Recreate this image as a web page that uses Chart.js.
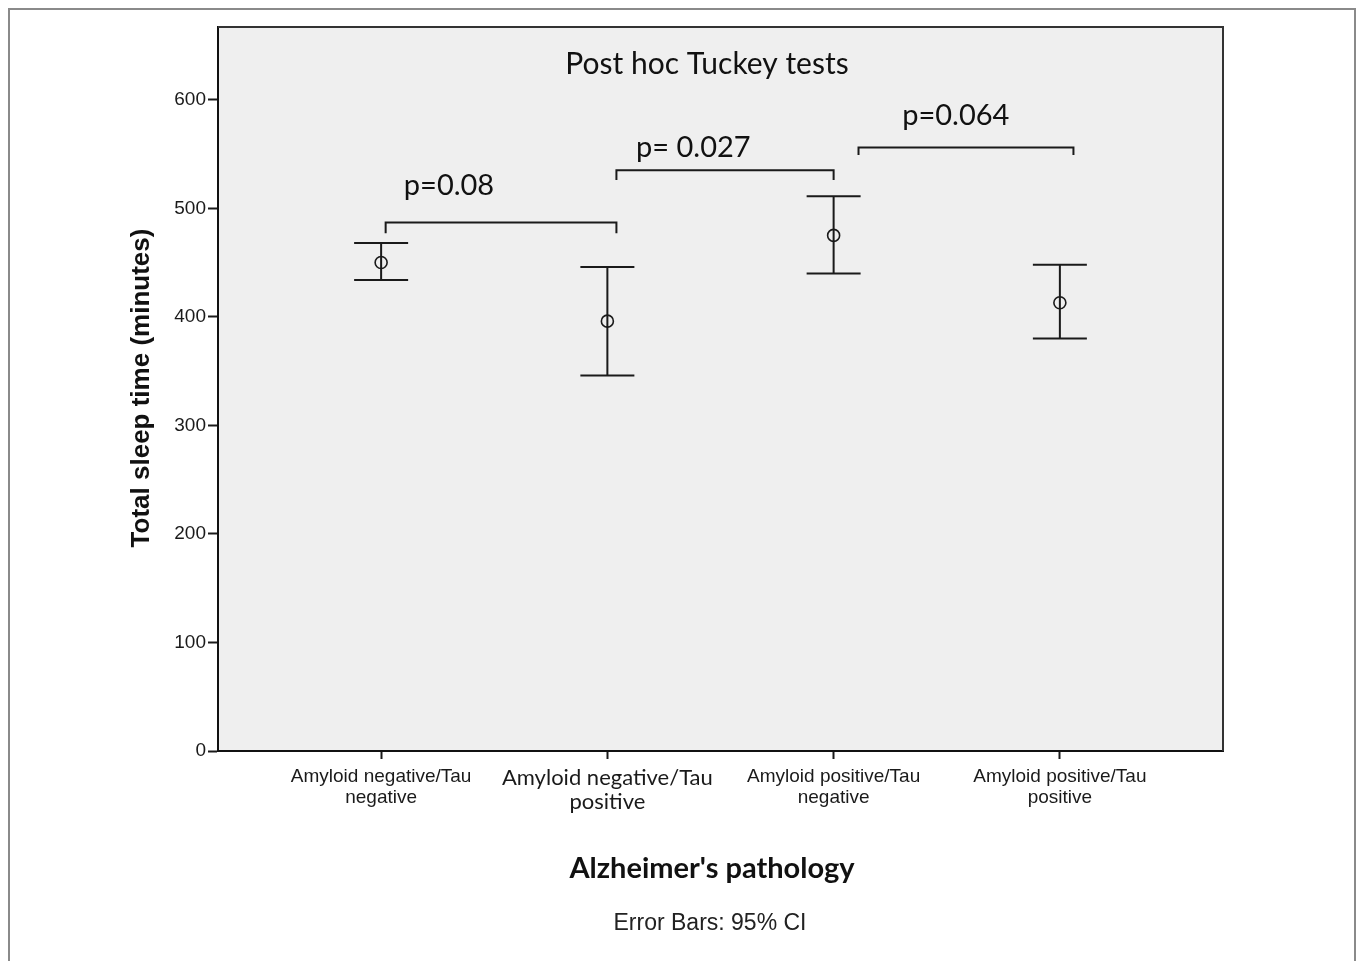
<!DOCTYPE html>
<html>
<head>
<meta charset="utf-8">
<script src="https://cdn.jsdelivr.net/npm/chart.js@4"></script>
<style>
  html, body { margin: 0; padding: 0; background: #fff; }
  #wrap { width: 1357px; height: 961px; position: relative; }
</style>
</head>
<body>
<div id="wrap"><canvas id="myChart"></canvas></div>
<script>
"use strict";
// groups (x categories) and their labels
const groupLabels = [
    ['Amyloid negative/Tau', 'negative'],
    ['Amyloid negative/Tau', 'positive'],
    ['Amyloid positive/Tau', 'negative'],
    ['Amyloid positive/Tau', 'positive']
];
// mean total sleep time and 95% CI
const means = [450, 396, 475, 413];
const ciLow = [434, 346, 440, 380];
const ciHigh = [468, 446, 511, 448];
const yTicks = [0, 100, 200, 300, 400, 500, 600];

// post hoc comparison brackets
const bracketFrom = [1.02, 2.04, 3.11];
const bracketTo = [2.04, 3.0, 4.06];
const bracketTop = [487, 535, 556];
const bracketFoot = [477, 526, 549];
const pLabels = ['p=0.08', 'p= 0.027', 'p=0.064'];
const pLabelX = [1.3, 2.38, 3.54];
const pLabelY = [521, 556, 585];

const decor = {
    id: 'decor',
    beforeDraw(chart) {
        const ctx = chart.ctx;
        const a = chart.chartArea;
        ctx.save();
        ctx.fillStyle = '#fff';
        ctx.fillRect(0, 0, chart.width, chart.height);
        ctx.strokeStyle = '#8a8a8a';
        ctx.lineWidth = 2;
        ctx.strokeRect(9, 9, 1346, 960);
        ctx.fillStyle = '#efefef';
        ctx.fillRect(a.left, a.top, a.right - a.left, a.bottom - a.top);
        ctx.restore();
    },
    afterDatasetsDraw(chart) {
        const ctx = chart.ctx;
        const xs = chart.scales.x, ys = chart.scales.y;
        ctx.save();
        ctx.strokeStyle = '#1a1a1a';
        ctx.lineWidth = 2;
        // error bars
        means.forEach((m, i) => {
            const x = xs.getPixelForValue(i + 1);
            const yl = ys.getPixelForValue(ciLow[i]);
            const yh = ys.getPixelForValue(ciHigh[i]);
            ctx.beginPath();
            ctx.moveTo(x, yl); ctx.lineTo(x, yh);
            ctx.moveTo(x - 27, yl); ctx.lineTo(x + 27, yl);
            ctx.moveTo(x - 27, yh); ctx.lineTo(x + 27, yh);
            ctx.stroke();
        });
        // brackets
        bracketFrom.forEach((b, i) => {
            const x1 = xs.getPixelForValue(b);
            const x2 = xs.getPixelForValue(bracketTo[i]);
            const yt = ys.getPixelForValue(bracketTop[i]);
            const yf = ys.getPixelForValue(bracketFoot[i]);
            ctx.beginPath();
            ctx.moveTo(x1, yf); ctx.lineTo(x1, yt); ctx.lineTo(x2, yt); ctx.lineTo(x2, yf);
            ctx.stroke();
        });
        ctx.fillStyle = '#111';
        ctx.textAlign = 'center';
        ctx.textBaseline = 'middle';
        ctx.font = '29px Lato, "Open Sans", sans-serif';
        pLabels.forEach((t, i) => {
            ctx.fillText(t, xs.getPixelForValue(pLabelX[i]), ys.getPixelForValue(pLabelY[i]));
        });
        ctx.restore();
    },
    afterDraw(chart) {
        const ctx = chart.ctx;
        const a = chart.chartArea;
        ctx.save();
        // top and right frame of the plot
        ctx.strokeStyle = '#333';
        ctx.lineWidth = 2;
        ctx.beginPath();
        ctx.moveTo(a.left, a.top); ctx.lineTo(a.right, a.top); ctx.lineTo(a.right, a.bottom);
        ctx.stroke();
        ctx.fillStyle = '#111';
        ctx.textAlign = 'center';
        ctx.textBaseline = 'middle';
        ctx.font = '30px Lato, "Open Sans", sans-serif';
        ctx.fillText('Post hoc Tuckey tests', 707, 64);
        ctx.font = 'bold 29px Lato, "Open Sans", sans-serif';
        ctx.fillText("Alzheimer's pathology", 712, 869);
        ctx.fillStyle = '#222';
        ctx.font = '23px "Liberation Sans", Arial, sans-serif';
        ctx.fillText('Error Bars: 95% CI', 710, 924);
        ctx.fillStyle = '#111';
        ctx.translate(142, 388);
        ctx.rotate(-Math.PI / 2);
        ctx.font = 'bold 26px "Liberation Sans", Arial, sans-serif';
        ctx.fillText('Total sleep time (minutes)', 0, 0);
        ctx.restore();
    }
};

const canvas = document.getElementById('myChart');
const ctx = canvas.getContext('2d');

new Chart(ctx, {
    type: 'scatter',
    data: {
        datasets: [{
            data: means.map((m, i) => ({ x: i + 1, y: m })),
            pointStyle: 'circle',
            pointRadius: 6,
            pointHoverRadius: 6,
            pointBackgroundColor: 'rgba(0,0,0,0)',
            pointBorderColor: '#1a1a1a',
            pointBorderWidth: 1.6
        }]
    },
    options: {
        responsive: true,
        maintainAspectRatio: false,
        animation: false,
        devicePixelRatio: 1,
        layout: { padding: { top: 27, right: 134, left: 0, bottom: 0 } },
        plugins: { legend: { display: false }, tooltip: { enabled: false } },
        scales: {
            x: {
                type: 'linear',
                min: 0.279,
                max: 4.721,
                afterBuildTicks: (scale) => { scale.ticks = groupLabels.map((g, i) => ({ value: i + 1 })); },
                afterFit: (scale) => { scale.height = 210; },
                grid: { display: true, drawOnChartArea: false, drawTicks: true, tickLength: 8, tickWidth: 2, tickColor: '#1a1a1a' },
                border: { display: true, color: '#111', width: 2 },
                ticks: {
                    autoSkip: false,
                    maxRotation: 0,
                    padding: 7,
                    color: '#1a1a1a',
                    callback: (v, i) => groupLabels[i],
                    font: (c) => c.index === 1
                        ? { family: 'Lato, "Open Sans", sans-serif', size: 22, lineHeight: 1.1 }
                        : { family: '"Liberation Sans", Arial, sans-serif', size: 19, lineHeight: 1.1 }
                }
            },
            y: {
                min: 0,
                max: 667,
                afterBuildTicks: (scale) => { scale.ticks = yTicks.map(v => ({ value: v })); },
                afterFit: (scale) => { scale.width = 218; },
                grid: { display: true, drawOnChartArea: false, drawTicks: true, tickLength: 10, tickWidth: 2, tickColor: '#1a1a1a' },
                border: { display: true, color: '#111', width: 2 },
                ticks: {
                    padding: 2,
                    color: '#1a1a1a',
                    font: { family: '"Liberation Sans", Arial, sans-serif', size: 19 }
                }
            }
        }
    },
    plugins: [decor]
});
</script>
</body>
</html>
